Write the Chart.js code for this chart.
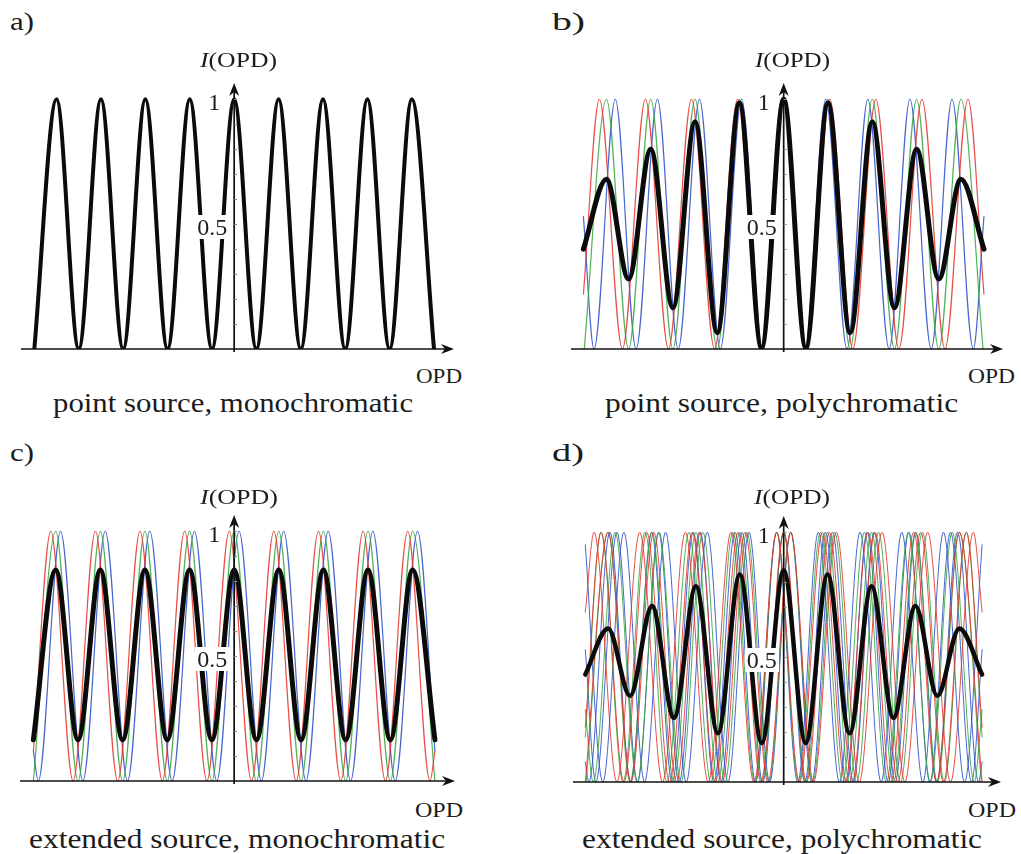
<!DOCTYPE html>
<html>
<head>
<meta charset="utf-8">
<script src="https://cdn.jsdelivr.net/npm/chart.js@4.4.1/dist/chart.umd.min.js"></script>
<style>
  html, body { margin: 0; padding: 0; background: #fff; }
  #fig { position: relative; width: 1021px; height: 854px; overflow: hidden; background: #fff;
         font-family: 'Liberation Serif', 'Times New Roman', serif; color: #1c1c1c; }
  .panel { position: absolute; }
  .lbl { position: absolute; white-space: nowrap; line-height: 1; transform-origin: 0 0; }
  .tick { position: absolute; white-space: nowrap; line-height: 1; background: #fff; padding: 0 2px; }
</style>
</head>
<body>
<div id="fig"></div>
<script>
// x = OPD in fringe periods (0 at the y axis), y = normalised intensity I(OPD)
const xMin = -4.8, xMax = 4.95, yMax = 1.065;
const yMinorTicks = [0.1, 0.2, 0.3, 0.4, 0.5, 0.6, 0.7, 0.8, 0.9, 1.0];
const yTickLabels = ['1', '0.5'];
const yTickValues = [1, 0.5];

// fringe extrema (peaks / troughs of each curve)
const fringeX = [-4.5, -4, -3.5, -3, -2.5, -2, -1.5, -1, -0.5, 0, 0.5, 1, 1.5, 2, 2.5, 3, 3.5, 4, 4.5];
const monoY = [0, 1, 0, 1, 0, 1, 0, 1, 0, 1, 0, 1, 0, 1, 0, 1, 0, 1, 0];

const sumX = [-4.52, -4, -3.5, -3, -2.5, -2, -1.5, -1, -0.5, 0, 0.5, 1, 1.5, 2, 2.5, 3, 3.5, 4, 4.52];
const bBlackY = [0.40, 0.68, 0.28, 0.80, 0.165, 0.91, 0.065, 0.985, 0.005, 1.0, 0.005, 0.985, 0.065, 0.91, 0.165, 0.80, 0.28, 0.68, 0.40];
const cBlackY = [0.165, 0.845, 0.165, 0.845, 0.165, 0.845, 0.165, 0.845, 0.165, 0.845, 0.165, 0.845, 0.165, 0.845, 0.165, 0.845, 0.165, 0.845, 0.165];
const dBlackY = [0.43, 0.615, 0.345, 0.705, 0.257, 0.784, 0.195, 0.831, 0.156, 0.848, 0.156, 0.831, 0.195, 0.784, 0.257, 0.705, 0.345, 0.615, 0.43];

// red (longer wavelength) and blue (shorter) single-colour fringes
const redMidX = [-4.52, -4.16, -3.64, -3.12, -2.6, -2.08, -1.56, -1.04, -0.52, 0, 0.52, 1.04, 1.56, 2.08, 2.6, 3.12, 3.64, 4.16, 4.52];
const redMidY = [0.22, 1, 0, 1, 0, 1, 0, 1, 0, 1, 0, 1, 0, 1, 0, 1, 0, 1, 0.22];
const blueMidX = [-4.52, -4.28, -3.8, -3.33, -2.85, -2.38, -1.9, -1.43, -0.95, -0.48, 0, 0.48, 0.95, 1.43, 1.9, 2.38, 2.85, 3.33, 3.8, 4.28, 4.52];
const blueMidY = [0.53, 0, 1, 0, 1, 0, 1, 0, 1, 0, 1, 0, 1, 0, 1, 0, 1, 0, 1, 0, 0.53];

// extended source, one wavelength: shifted copies
const cRedX = [-4.5, -4.11, -3.61, -3.11, -2.61, -2.11, -1.61, -1.11, -0.61, -0.11, 0.39, 0.89, 1.39, 1.89, 2.39, 2.89, 3.39, 3.89, 4.39, 4.5];
const cRedY = [0.12, 1, 0, 1, 0, 1, 0, 1, 0, 1, 0, 1, 0, 1, 0, 1, 0, 1, 0, 0.12];
const cBlueX = [-4.5, -4.39, -3.89, -3.39, -2.89, -2.39, -1.89, -1.39, -0.89, -0.39, 0.11, 0.61, 1.11, 1.61, 2.11, 2.61, 3.11, 3.61, 4.11, 4.5];
const cBlueY = [0.12, 0, 1, 0, 1, 0, 1, 0, 1, 0, 1, 0, 1, 0, 1, 0, 1, 0, 1, 0.12];

// extended source, three wavelengths
const dRedLeftX = [-4.52, -4.32, -3.80, -3.28, -2.76, -2.24, -1.72, -1.20, -0.68, -0.16, 0.36, 0.88, 1.40, 1.92, 2.44, 2.96, 3.48, 4.00, 4.52];
const dRedLeftY = [0.68, 1, 0, 1, 0, 1, 0, 1, 0, 1, 0, 1, 0, 1, 0, 1, 0, 1, 0];
const dRedRightX = [-4.52, -4.00, -3.48, -2.96, -2.44, -1.92, -1.40, -0.88, -0.36, 0.16, 0.68, 1.20, 1.72, 2.24, 2.76, 3.28, 3.80, 4.32, 4.52];
const dRedRightY = [0, 1, 0, 1, 0, 1, 0, 1, 0, 1, 0, 1, 0, 1, 0, 1, 0, 1, 0.68];
const dGreenLeftX = [-4.52, -4.16, -3.66, -3.16, -2.66, -2.16, -1.66, -1.16, -0.66, -0.16, 0.34, 0.84, 1.34, 1.84, 2.34, 2.84, 3.34, 3.84, 4.34, 4.52];
const dGreenLeftY = [0.18, 1, 0, 1, 0, 1, 0, 1, 0, 1, 0, 1, 0, 1, 0, 1, 0, 1, 0, 0.29];
const dGreenRightX = [-4.52, -4.34, -3.84, -3.34, -2.84, -2.34, -1.84, -1.34, -0.84, -0.34, 0.16, 0.66, 1.16, 1.66, 2.16, 2.66, 3.16, 3.66, 4.16, 4.52];
const dGreenRightY = [0.29, 0, 1, 0, 1, 0, 1, 0, 1, 0, 1, 0, 1, 0, 1, 0, 1, 0, 1, 0.18];
const dBlueLeftX = [-4.52, -4.44, -3.96, -3.49, -3.01, -2.54, -2.06, -1.59, -1.11, -0.64, -0.16, 0.32, 0.79, 1.27, 1.74, 2.22, 2.69, 3.17, 3.64, 4.12, 4.52];
const dBlueLeftY = [0.08, 0, 1, 0, 1, 0, 1, 0, 1, 0, 1, 0, 1, 0, 1, 0, 1, 0, 1, 0, 0.95];
const dBlueRightX = [-4.52, -4.12, -3.64, -3.17, -2.69, -2.22, -1.74, -1.27, -0.79, -0.32, 0.16, 0.64, 1.11, 1.59, 2.06, 2.54, 3.01, 3.49, 3.96, 4.44, 4.52];
const dBlueRightY = [0.95, 0, 1, 0, 1, 0, 1, 0, 1, 0, 1, 0, 1, 0, 1, 0, 1, 0, 1, 0, 0.08];

const RED = 'rgba(228,48,40,0.85)', GREEN = 'rgba(50,165,60,0.85)', BLUE = 'rgba(40,75,200,0.85)', BLACK = '#0b0b0b';

const fig = document.getElementById('fig');

function pts(xs, ys) {
  return xs.map((x, i) => ({ x: x, y: ys[i] }));
}

function line(xs, ys, color, width) {
  return {
    data: pts(xs, ys),
    borderColor: color,
    borderWidth: width,
    pointRadius: 0,
    fill: false,
    cubicInterpolationMode: 'monotone',
    borderCapStyle: 'round',
    borderJoinStyle: 'round',
  };
}

function arrowHead(ctx, tx, ty, ang) {
  ctx.save();
  ctx.translate(tx, ty);
  ctx.rotate(ang);
  ctx.beginPath();
  ctx.moveTo(0, 0);
  ctx.lineTo(-13, -5);
  ctx.lineTo(-9, 0);
  ctx.lineTo(-13, 5);
  ctx.closePath();
  ctx.fill();
  ctx.restore();
}

const axesPlugin = {
  id: 'axes',
  afterDatasetsDraw(chart) {
    const { ctx, chartArea } = chart;
    const x = chart.scales.x, y = chart.scales.y;
    const x0 = x.getPixelForValue(0), y0 = y.getPixelForValue(0);
    ctx.save();
    ctx.strokeStyle = '#111';
    ctx.fillStyle = '#111';
    ctx.lineWidth = 1.7;
    ctx.beginPath();
    ctx.moveTo(chartArea.left, y0);
    ctx.lineTo(chartArea.right - 8, y0);
    ctx.stroke();
    ctx.beginPath();
    ctx.moveTo(x0, y0 + 3);
    ctx.lineTo(x0, chartArea.top + 8);
    ctx.stroke();
    arrowHead(ctx, chartArea.right, y0, 0);
    arrowHead(ctx, x0, chartArea.top, -Math.PI / 2);
    ctx.strokeStyle = '#8a8a8a';
    ctx.lineWidth = 1;
    yMinorTicks.forEach(function (v) {
      const py = Math.round(y.getPixelForValue(v)) + 0.5;
      ctx.beginPath();
      ctx.moveTo(x0, py);
      ctx.lineTo(x0 + 3, py);
      ctx.stroke();
    });
    ctx.restore();
  },
};

const panels = [
  { cx: 234.5, y0: 349.5, px: 44.4, sets: [line(fringeX, monoY, BLACK, 4)] },
  { cx: 783.5, y0: 349.5, px: 44.35, sets: [
    line(sumX, bBlackY, BLACK, 5),
    line(redMidX, redMidY, RED, 1.2),
    line(fringeX, monoY, GREEN, 1.2),
    line(blueMidX, blueMidY, BLUE, 1.2),
  ] },
  { cx: 234.5, y0: 781.5, px: 44.6, sets: [
    line(fringeX, cBlackY, BLACK, 5),
    line(cRedX, cRedY, RED, 1.2),
    line(fringeX, monoY, GREEN, 1.2),
    line(cBlueX, cBlueY, BLUE, 1.2),
  ] },
  { cx: 783.5, y0: 782, px: 43.9, sets: [
    line(sumX, dBlackY, BLACK, 4.5),
    line(dRedLeftX, dRedLeftY, RED, 1),
    line(redMidX, redMidY, RED, 1),
    line(dRedRightX, dRedRightY, RED, 1),
    line(dGreenLeftX, dGreenLeftY, GREEN, 1),
    line(fringeX, monoY, GREEN, 1),
    line(dGreenRightX, dGreenRightY, GREEN, 1),
    line(dBlueLeftX, dBlueLeftY, BLUE, 1),
    line(blueMidX, blueMidY, BLUE, 1),
    line(dBlueRightX, dBlueRightY, BLUE, 1),
  ] },
];

const pad = 14, yPx = 250;

panels.forEach(function (p) {
  const w = Math.round((xMax - xMin) * p.px + 2 * pad);
  const h = Math.round(yMax * yPx + 2 * pad);
  const left = Math.round(p.cx + xMin * p.px - pad);
  const top = Math.round(p.y0 - yMax * yPx - pad);
  const div = document.createElement('div');
  div.className = 'panel';
  div.style.left = left + 'px';
  div.style.top = top + 'px';
  const canvas = document.createElement('canvas');
  canvas.width = w;
  canvas.height = h;
  canvas.style.width = w + 'px';
  canvas.style.height = h + 'px';
  div.appendChild(canvas);
  fig.appendChild(div);

  const chart = new Chart(canvas.getContext('2d'), {
    type: 'line',
    data: { datasets: p.sets },
    options: {
      responsive: false,
      animation: false,
      events: [],
      layout: { padding: pad },
      plugins: { legend: { display: false }, tooltip: { enabled: false } },
      scales: {
        x: { type: 'linear', min: xMin, max: xMax, display: false },
        y: { type: 'linear', min: 0, max: yMax, display: false },
      },
    },
    plugins: [axesPlugin],
  });

  // tick labels 1 and 0.5 placed from the chart's own scales
  const ax = left + chart.scales.x.getPixelForValue(0);
  yTickValues.forEach(function (v, i) {
    const el = document.createElement('div');
    el.className = 'tick';
    el.textContent = yTickLabels[i];
    const size = 24;
    el.style.fontSize = size + 'px';
    const gap = v === 1 ? 14 : 7;
    el.style.right = (1021 - (ax - gap) - 2) + 'px';
    const base = top + chart.scales.y.getPixelForValue(v) + 11;
    el.style.top = (base - 0.8375 * size) + 'px';
    fig.appendChild(el);
  });
});

// text labels: x = left edge, b = baseline, s = font size, w = target width
const labels = [
  { t: 'a)', x: 10, b: 31, s: 26, w: 24 },
  { t: '<i>I</i>(OPD)', x: 200, b: 67, s: 20, w: 77 },
  { t: 'OPD', x: 416, b: 383, s: 20, w: 46 },
  { t: 'point source, monochromatic', x: 53, b: 412, s: 28, w: 360 },
  { t: 'b)', x: 552, b: 31, s: 26, w: 33 },
  { t: '<i>I</i>(OPD)', x: 755, b: 67, s: 20, w: 75 },
  { t: 'OPD', x: 968, b: 383, s: 20, w: 47 },
  { t: 'point source, polychromatic', x: 605, b: 412, s: 28, w: 353 },
  { t: 'c)', x: 10, b: 462, s: 26, w: 24 },
  { t: '<i>I</i>(OPD)', x: 200, b: 504, s: 20, w: 78 },
  { t: 'OPD', x: 415, b: 817, s: 20, w: 48 },
  { t: 'extended source, monochromatic', x: 29, b: 848, s: 28, w: 416 },
  { t: 'd)', x: 552, b: 462, s: 26, w: 32 },
  { t: '<i>I</i>(OPD)', x: 754, b: 504, s: 20, w: 76 },
  { t: 'OPD', x: 968, b: 817, s: 20, w: 48 },
  { t: 'extended source, polychromatic', x: 582, b: 848, s: 28, w: 400 },
];

labels.forEach(function (l) {
  const el = document.createElement('div');
  el.className = 'lbl';
  el.innerHTML = l.t;
  el.style.fontSize = l.s + 'px';
  el.style.left = l.x + 'px';
  el.style.top = (l.b - 0.8375 * l.s) + 'px';
  fig.appendChild(el);
  const ow = el.getBoundingClientRect().width;
  el.style.transform = 'scaleX(' + (l.w / ow).toFixed(3) + ')';
});
</script>
</body>
</html>
